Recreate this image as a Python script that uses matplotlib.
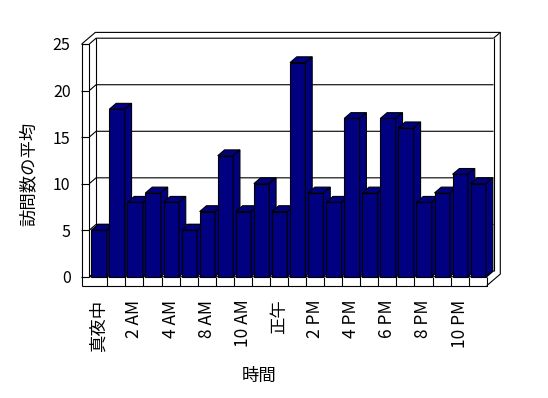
import matplotlib
matplotlib.use("Agg")
import matplotlib.pyplot as plt
from matplotlib.patches import Polygon, Rectangle

plt.rcParams['font.family'] = ['Noto Sans CJK JP', 'DejaVu Sans']

# ---- data ----
categories = ['真夜中', '1 AM', '2 AM', '3 AM', '4 AM', '7 AM', '8 AM', '9 AM',
              '10 AM', '11 AM', '正午', '1 PM', '2 PM', '3 PM', '4 PM', '5 PM',
              '6 PM', '7 PM', '8 PM', '9 PM', '10 PM', '11 PM']
values = [5, 18, 8, 9, 8, 5, 7, 13, 7, 10, 7, 23, 9, 8, 17, 9, 17, 16, 8, 9, 11, 10]
y_ticks = [0, 5, 10, 15, 20, 25]
x_label = '時間'
y_label = '訪問数の平均'

# ---- style / geometry ----
W, H = 548, 398
BAR = '#000080'
LW = 0.8
n = len(categories)
ymax = 25
fig = plt.figure(figsize=(W / 100, H / 100), dpi=100)
x0p, x1p, ytop, ybot = 89.3, 486.7, 44.0, 276.7
ax = fig.add_axes([x0p / W, (H - ybot) / H, (x1p - x0p) / W, (ybot - ytop) / H])
ax.set_xlim(0, n)
ax.set_ylim(0, ymax)
for s in ax.spines.values():
    s.set_visible(False)

cw = (x1p - x0p) / n          # px per category
vu = (ybot - ytop) / ymax     # px per value unit
dX = 6.8 / cw
dY = 5.8 / vu
wall = 7.6 / cw               # left wall thickness in category units
floor = 9.0 / vu              # floor thickness in value units
K = dict(color='black', lw=LW, clip_on=False, solid_capstyle='butt')

# back wall & grid
for v in y_ticks:
    ax.plot([0, dX, n + dX], [v, v + dY, v + dY], zorder=1, **K)
ax.plot([dX, dX], [dY, ymax + dY], zorder=1, **K)
ax.plot([n + dX, n + dX], [dY, ymax + dY], zorder=1, **K)
# left wall
ax.plot([0, 0], [0, ymax], zorder=1, **K)
ax.plot([-wall, -wall], [-floor, ymax], zorder=1, **K)
ax.plot([-wall, 0], [ymax, ymax], zorder=1, **K)
# outer frame
ax.plot([-wall, -wall + 2 * dX, n + 2 * dX, n + 2 * dX, n],
        [ymax, ymax + 2 * dY, ymax + 2 * dY, -floor + 2 * dY, -floor], zorder=1, **K)
ax.plot([n + dX, n + 2 * dX], [ymax + dY, ymax + 2 * dY], zorder=1, **K)
# floor slab
ax.plot([-wall, n, n], [-floor, -floor, 0], zorder=1, **K)
ax.plot([0, n, n + dX], [0, 0, dY], zorder=1, **K)
for k in range(1, n):
    ax.plot([k, k], [-floor, 0], zorder=1, **K)

# bars
a = 2.0 / cw
w = 15.4 / cw
for i, v in enumerate(values):
    xl = i + a
    z = 5 + i
    ax.add_patch(Rectangle((xl, 0), w, v, facecolor=BAR, edgecolor='black',
                           lw=LW, clip_on=False, zorder=z))
    ax.add_patch(Polygon([(xl, v), (xl + w, v), (xl + w + dX, v + dY), (xl + dX, v + dY)],
                         closed=True, facecolor=BAR, edgecolor='black', lw=LW,
                         clip_on=False, zorder=z))
    ax.add_patch(Polygon([(xl + w, 0), (xl + w + dX, dY), (xl + w + dX, v + dY), (xl + w, v)],
                         closed=True, facecolor=BAR, edgecolor='black', lw=LW,
                         clip_on=False, zorder=z))

# ticks
ax.set_yticks(y_ticks)
ax.set_yticklabels([str(t) for t in y_ticks], fontsize=11.5)
ax.tick_params(axis='y', direction='out', length=7.6 * 0.72, width=LW, pad=8)
xt = [i + 0.5 for i in range(0, n, 2)]
ax.set_xticks(xt)
ax.set_xticklabels([categories[i] for i in range(0, n, 2)], rotation=90, fontsize=12.5)
ax.tick_params(axis='x', length=0, pad=16.5)

fig.text(259.2 / W, 1 - 375.5 / H, x_label, ha='center', va='center', fontsize=12.5)
fig.text(28.7 / W, 1 - 173.7 / H, y_label, ha='center', va='center', rotation=90, fontsize=12.5)

fig.savefig('out.png', dpi=100, facecolor='white')
